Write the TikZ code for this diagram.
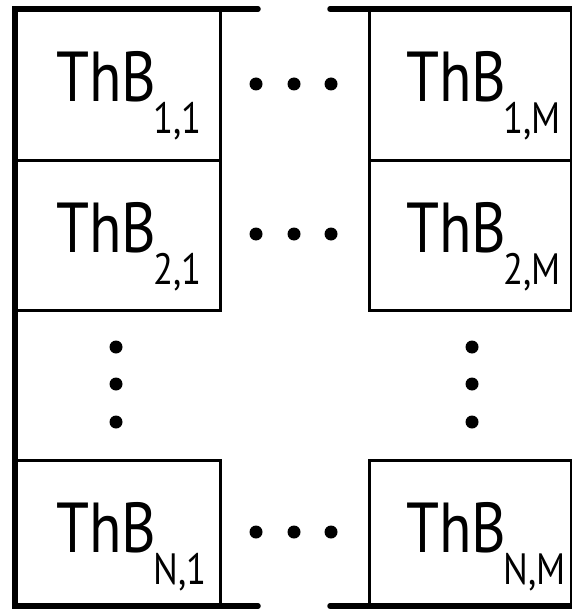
\documentclass[tikz,border=0pt]{standalone}
\usepackage{fontspec}
\setmainfont[FakeStretch=0.84]{PT Sans}
\newcommand\cellfont{\fontsize{71}{71}\selectfont}
\newcommand\idxfont{\fontsize{44}{44}\selectfont}
% block name with a dropped index
\newcommand\thb[1]{{\cellfont ThB}\kern-3bp\lower32bp\hbox{\idxfont #1}}

\begin{document}
\begin{tikzpicture}[x=1bp,y=-1bp,
  cell/.style={draw, line width=2.6bp, minimum width=204bp, minimum height=150bp,
               inner sep=0, anchor=north west},
  rcell/.style={cell, minimum width=202bp},
  lbl/.style={anchor=base west, inner sep=0},
  wall/.style={line width=5.5bp, line cap=round, line join=miter},
  dot/.style={circle, fill, inner sep=0, minimum size=13bp}]
\useasboundingbox (0,0) rectangle (572,609);

% cells
\node[cell]  (c11) at (15,9) {};
\node[rcell] (c1m) at (368,9) {};
\node[cell]  (c21) at (15,159) {};
\node[rcell] (c2m) at (368,159) {};
\node[cell,  minimum height=147bp] (cn1) at (15,459) {};
\node[rcell, minimum height=147bp] (cnm) at (368,459) {};

% labels
\node[lbl] (t11) at ([shift={(41,93)}]c11.north west) {\thb{1,1}};
\node[lbl] (t1m) at ([shift={(38,93)}]c1m.north west) {\thb{1,M}};
\node[lbl] (t21) at ([shift={(41,93)}]c21.north west) {\thb{2,1}};
\node[lbl] (t2m) at ([shift={(38,93)}]c2m.north west) {\thb{2,M}};
\node[lbl] (tn1) at ([shift={(41,93)}]cn1.north west) {\thb{N,1}};
\node[lbl] (tnm) at ([shift={(38,93)}]cnm.north west) {\thb{N,M}};

% outer walls
\coordinate (tl) at (258,9);
\coordinate (bl) at (258,606);
\coordinate (tr) at (330,9);
\coordinate (br) at (330,606);
\coordinate (tre) at (580,9);
\coordinate (bre) at (580,606);
\draw[wall] (tl) -- (15,9) -- (15,606) -- (bl);
\draw[wall] (tr) -- (tre);
\draw[wall] (br) -- (bre);

% horizontal ellipses
\foreach \r/\y in {1/84, 2/234, n/532}{
  \node[dot] (h\r a) at (256,\y) {};
  \node[dot] (h\r b) at (294,\y) {};
  \node[dot] (h\r c) at (331,\y) {};
}
% vertical ellipses
\foreach \c/\x in {1/116, m/472}{
  \node[dot] (v\c a) at (\x,347) {};
  \node[dot] (v\c b) at (\x,384) {};
  \node[dot] (v\c c) at (\x,422) {};
}
\end{tikzpicture}
\end{document}
